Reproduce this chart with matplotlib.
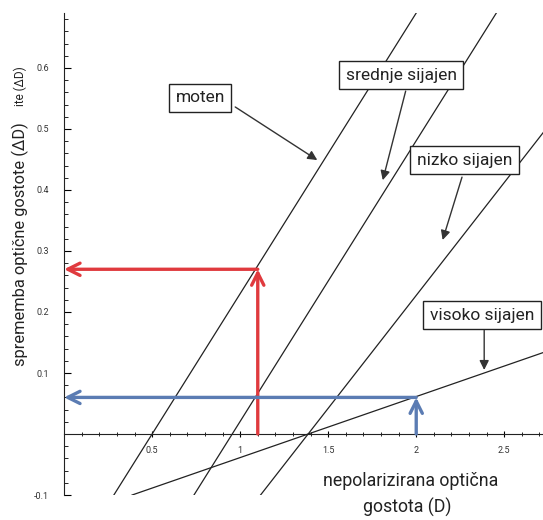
import matplotlib.pyplot as plt
import numpy as np
from matplotlib.ticker import MultipleLocator, FixedLocator

plt.rcParams['font.family'] = ['Roboto', 'DejaVu Sans']

# lines: x where they cross D-axis and their slope
line_names = ['moten', 'srednje sijajen', 'nizko sijajen', 'visoko sijajen']
x_intercepts = [0.5, 0.955, 1.386, 1.386]
slopes = [0.46, 0.46, 0.37, 0.10]

# read-off examples
red_x, red_y = 1.1, 0.27
blue_x, blue_y = 2.0, 0.06

y_ticks = [-0.1, 0.1, 0.2, 0.3, 0.4, 0.5, 0.6]
x_ticks = [0.5, 1, 1.5, 2, 2.5]
x_tick_labels = ['0.5', '1', '1.5', '2', '2.5']

red = '#e03a3e'
blue = '#5b7cb3'

fig = plt.figure(figsize=(5.43, 5.2), dpi=100)
ax = fig.add_axes([0.118, 0.048, 0.882, 0.927])
ax.set_xlim(0, 2.72)
ax.set_ylim(-0.1, 0.69)

for x0, s in zip(x_intercepts, slopes):
    xs = np.array([x0 - 0.1 / s, 3.0])
    ax.plot(xs, s * (xs - x0), color='#222222', lw=0.9)

# red arrows
arr = dict(arrowstyle='->', lw=2.4, mutation_scale=22, shrinkA=0, shrinkB=0)
ax.annotate('', xy=(red_x, red_y), xytext=(red_x, 0), arrowprops=dict(arr, color=red))
ax.annotate('', xy=(0, red_y), xytext=(red_x, red_y), arrowprops=dict(arr, color=red))
# blue arrows
ax.annotate('', xy=(blue_x, blue_y), xytext=(blue_x, 0), arrowprops=dict(arr, color=blue))
ax.annotate('', xy=(0, blue_y), xytext=(blue_x, blue_y), arrowprops=dict(arr, color=blue))

# labels in boxes
box_pos = [(0.773, 0.551), (1.915, 0.588), (2.273, 0.449), (2.375, 0.195)]
arrow_start = [(0.972, 0.536), (1.94, 0.562), (2.26, 0.421), (2.386, 0.170)]
arrow_tip = [(1.438, 0.449), (1.81, 0.416), (2.15, 0.318), (2.386, 0.105)]
for name, bp, st, tip in zip(line_names, box_pos, arrow_start, arrow_tip):
    ax.annotate('', xy=tip, xytext=st,
                arrowprops=dict(arrowstyle='-|>', color='#333333', lw=1.0, mutation_scale=14,
                                shrinkA=0, shrinkB=0))
    ax.text(bp[0], bp[1], name, ha='center', va='center', fontsize=12.5, color='#222222',
            bbox=dict(boxstyle='square,pad=0.38', fc='white', ec='#222222', lw=1.0))

# axes styling
ax.spines['top'].set_visible(False)
ax.spines['right'].set_visible(False)
ax.spines['bottom'].set_position(('data', 0))
ax.spines['left'].set_color('#222222')
ax.spines['bottom'].set_color('#222222')

ax.yaxis.set_major_locator(FixedLocator(y_ticks))
ax.yaxis.set_minor_locator(MultipleLocator(0.02))
ax.set_yticklabels(['-0.1'] + ['%.1f' % v for v in y_ticks[1:]])
ax.xaxis.set_major_locator(FixedLocator(x_ticks))
ax.xaxis.set_minor_locator(MultipleLocator(0.1))
ax.set_xticklabels(x_tick_labels)

ax.tick_params(axis='y', which='major', direction='in', length=5, labelsize=6.5, pad=11, labelcolor='#333333')
ax.tick_params(axis='y', which='minor', direction='in', length=3)
ax.tick_params(axis='x', which='major', direction='inout', length=5, labelsize=6.5, pad=6, labelcolor='#333333')
ax.tick_params(axis='x', which='minor', direction='inout', length=3)

fig.text(0.037, 1 - 366 / 520, 'sprememba optične gostote (ΔD)', rotation=90,
         ha='center', va='bottom', fontsize=11.8, color='#222222')
fig.text(0.037, 1 - 66 / 520, 'ite (ΔD)', rotation=90,
         ha='center', va='top', fontsize=8.5, color='#222222')
fig.text(411 / 543, 1 - 481 / 520, 'nepolarizirana optična', ha='center', va='center',
         fontsize=12.8, color='#222222')
fig.text(407 / 543, 1 - 507 / 520, 'gostota (D)', ha='center', va='center',
         fontsize=12.8, color='#222222')

fig.savefig('out.png', dpi=100)
